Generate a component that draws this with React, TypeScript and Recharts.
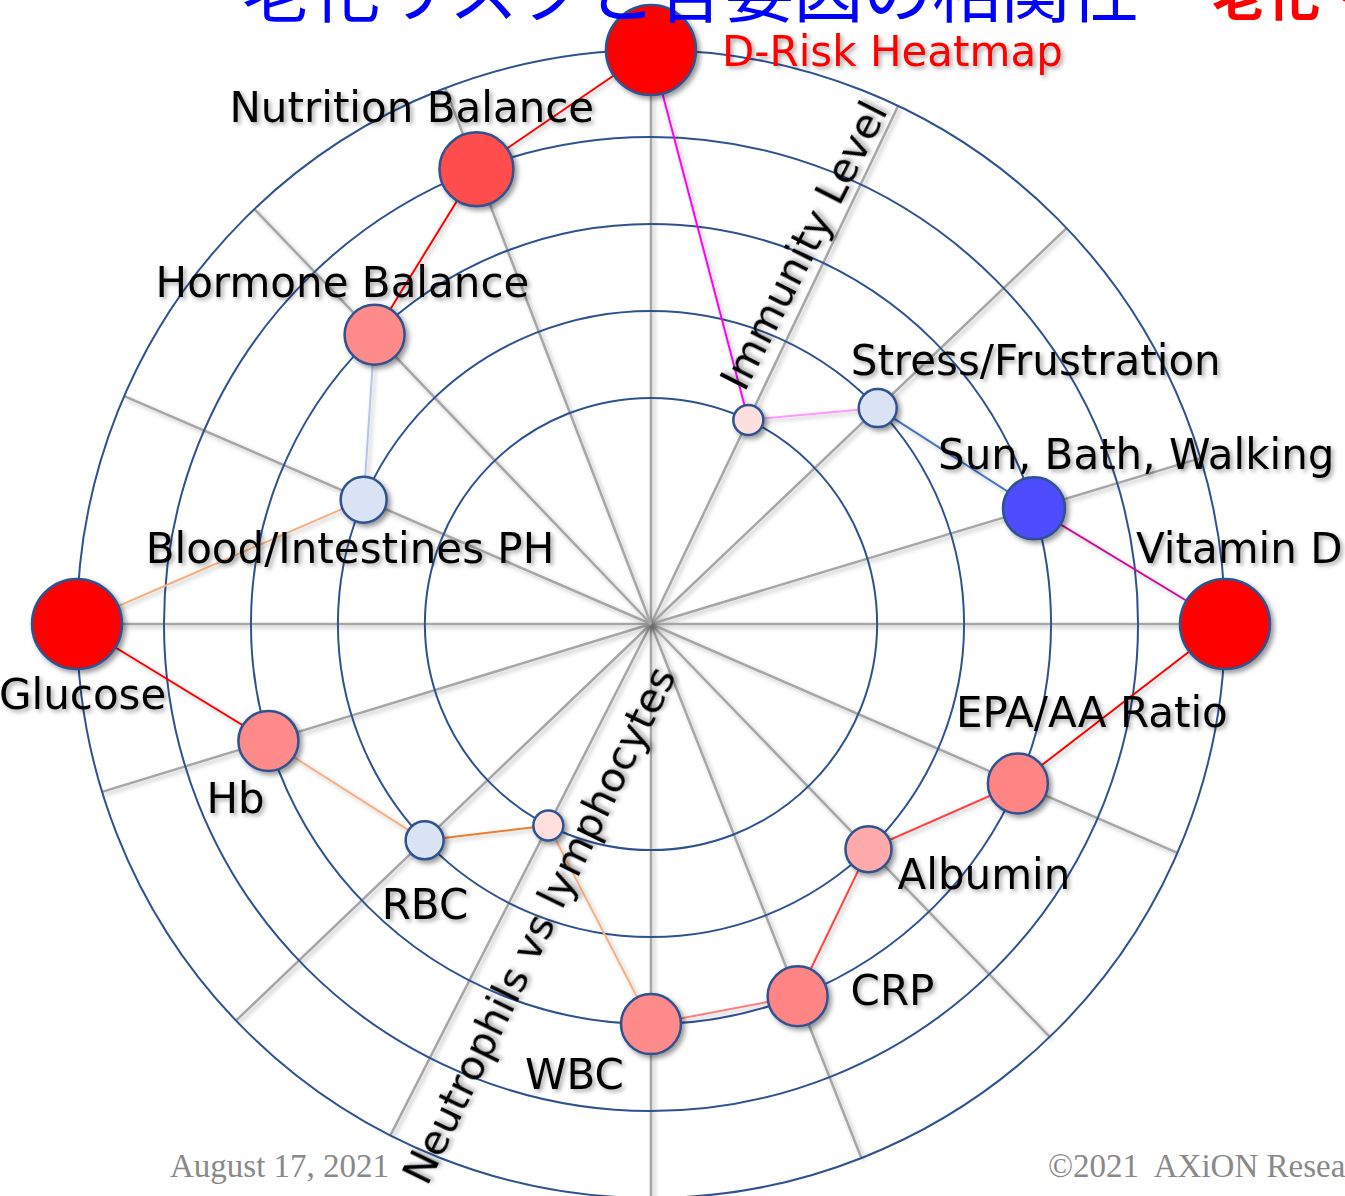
import React from "react";
import { RadarChart, Radar, PolarGrid, PolarAngleAxis, PolarRadiusAxis } from "recharts";

// factors around the wheel, clockwise from the top
const factors = [
  "D-Risk Heatmap",
  "Immunity Level",
  "Stress/Frustration",
  "Sun, Bath, Walking",
  "Vitamin D",
  "EPA/AA Ratio",
  "Albumin",
  "CRP",
  "WBC",
  "Neutrophils vs lymphocytes",
  "RBC",
  "Hb",
  "Glucose",
  "Blood/Intestines PH",
  "Hormone Balance",
  "Nutrition Balance",
];

// bearing of each spoke, degrees clockwise from the top (spokes are not evenly spaced)
const bearings = [0, 25.5, 46.4, 73.2, 90, 113.5, 136, 158.5, 180, 207, 226.3, 253, 270, 293.4, 316.3, 339];

// ring level of each node (1 = inner ring, 5 = outer ring)
const riskLevel = [5, 1, 2, 3, 5, 3, 2, 3, 3, 1, 2, 3, 5, 2, 3, 4];
const ringLevels = [1, 2, 3, 4, 5];

const nodeFill = [
  "#FF0000", "#FFDEDE", "#DAE3F3", "#4D4DFF", "#FF0000", "#FF8585", "#FFAAAA", "#FF8585",
  "#FF8A8A", "#FFDEDE", "#DAE3F3", "#FF8A8A", "#FF0000", "#DAE3F3", "#FF8A8A", "#FF4D4D",
];
const nodeRadius = [45, 15, 19, 31, 45, 30, 23, 30, 30, 15, 19, 30, 45, 23, 30, 37];

// colour of the link from factor i to factor i+1
const linkColor = [
  "#FF00FF", "#FF99FF", "#4472C4", "#CC1199", "#FF0000", "#FF4545", "#FF4545", "#FF7C80",
  "#F4B183", "#ED7D31", "#F4B183", "#FF0000", "#F4B183", "#B4C7E7", "#FF0000", "#FF0000",
];

const rows = factors.map((name, i) => ({ name, bearing: bearings[i], risk: riskLevel[i] }));

const spokeAngles = bearings.map((b) => 90 - b);

// label placement relative to each node
const labelLayout: Record<string, { dx: number; dy: number; rotate?: number; color?: string }> = {
  "D-Risk Heatmap": { dx: 71, dy: 16, color: "#FF0000" },
  "Immunity Level": { dx: 68, dy: -168, rotate: -63 },
  "Stress/Frustration": { dx: -27, dy: -33 },
  "Sun, Bath, Walking": { dx: -96, dy: -39 },
  "Vitamin D": { dx: -89, dy: -61 },
  "EPA/AA Ratio": { dx: -62, dy: -57 },
  "Albumin": { dx: 29, dy: 40 },
  "CRP": { dx: 53, dy: 9 },
  "WBC": { dx: -126, dy: 65 },
  "Neutrophils vs lymphocytes": { dx: 4, dy: 106, rotate: -64 },
  "RBC": { dx: -43, dy: 79 },
  "Hb": { dx: -62, dy: 72 },
  "Glucose": { dx: -78, dy: 85 },
  "Blood/Intestines PH": { dx: -218, dy: 63 },
  "Hormone Balance": { dx: -219, dy: -38 },
  "Nutrition Balance": { dx: -247, dy: -47 },
};

const renderLinks = (props: any) => {
  const pts = props.points || [];
  return (
    <g filter="url(#lineShadow)">
      {pts.map((p: any, i: number) => {
        const q = pts[(i + 1) % pts.length];
        return <line key={`link-${i}`} x1={p.x} y1={p.y} x2={q.x} y2={q.y} stroke={linkColor[i]} strokeWidth={2} />;
      })}
    </g>
  );
};

const renderNode = (p: any) => (
  <circle
    key={`node-${p.index}`}
    cx={p.cx}
    cy={p.cy}
    r={nodeRadius[p.index]}
    fill={nodeFill[p.index]}
    stroke="#2F528F"
    strokeWidth={2.5}
    filter="url(#dropShadow)"
  />
);

const renderLabel = (p: any) => {
  const name = factors[p.index];
  const l = labelLayout[name];
  const x = p.cx + l.dx;
  const y = p.cy + l.dy;
  return (
    <text
      key={`label-${p.index}`}
      x={x}
      y={y}
      textAnchor={l.rotate ? "middle" : "start"}
      transform={l.rotate ? `rotate(${l.rotate} ${x} ${y})` : undefined}
      fontFamily="DejaVu Sans"
      fontSize={l.rotate ? 41 : 42}
      fill={l.color ?? "#000"}
      filter="url(#textShadow)"
    >
      {name}
    </text>
  );
};

export default function App() {
  return (
    <div style={{ position: "absolute", left: 0, top: 0, width: 1345, height: 1196, overflow: "hidden", background: "#fff" }}>
      <style>{`
        .recharts-polar-grid-angle line { filter: url(#lineShadow); }
      `}</style>
      <svg width={0} height={0} style={{ position: "absolute" }}>
        <defs>
          <filter id="dropShadow" filterUnits="userSpaceOnUse" x={-50} y={-50} width={1450} height={1300}>
            <feDropShadow dx={3} dy={3} stdDeviation={2.5} floodColor="#000" floodOpacity={0.4} />
          </filter>
          <filter id="textShadow" filterUnits="userSpaceOnUse" x={-50} y={-50} width={1450} height={1300}>
            <feDropShadow dx={2.5} dy={2.5} stdDeviation={2} floodColor="#000" floodOpacity={0.35} />
          </filter>
          <filter id="lineShadow" filterUnits="userSpaceOnUse" x={-50} y={-50} width={1450} height={1300}>
            <feDropShadow dx={2.5} dy={2.5} stdDeviation={2} floodColor="#000" floodOpacity={0.25} />
          </filter>
        </defs>
      </svg>
      <RadarChart
        width={1345}
        height={1196}
        cx={651}
        cy={624}
        outerRadius={574}
        startAngle={90}
        endAngle={-270}
        data={rows}
        margin={{ top: 0, right: 0, bottom: 0, left: 0 }}
      >
        <PolarAngleAxis dataKey="bearing" type="number" domain={[0, 360]} tick={false} axisLine={false} />
        <PolarRadiusAxis
          type="number"
          domain={[-1.6, 5]}
          allowDataOverflow
          allowDecimals
          ticks={ringLevels}
          tick={false}
          axisLine={false}
        />
        <PolarGrid gridType="circle" polarAngles={spokeAngles} polarRadius={[]} stroke="#A6A6A6" strokeWidth={2.5} />
        <PolarGrid gridType="circle" radialLines={false} stroke="#2F528F" strokeWidth={2} />
        <Radar dataKey="risk" stroke="none" fill="none" shape={renderLinks} dot={false} activeDot={false} isAnimationActive={false} />
        <Radar dataKey="risk" stroke="none" fill="none" fillOpacity={0} dot={renderNode} activeDot={false} isAnimationActive={false} />
        <Radar dataKey="risk" stroke="none" fill="none" fillOpacity={0} dot={renderLabel} activeDot={false} isAnimationActive={false} />
      </RadarChart>
      <svg width={1345} height={1196} style={{ position: "absolute", left: 0, top: 0, pointerEvents: "none" }}>
        <text x={242} y={17} fontFamily="Noto Sans CJK JP" fontSize={69} fill="#0000FF">
          老化リスクと各要因の相関性
        </text>
        <text x={1212} y={16} fontFamily="Noto Sans CJK JP" fontSize={54} fontWeight="bold" fill="#FF0000">
          老化・
        </text>
        <text x={170} y={1177} fontFamily="Liberation Serif" fontSize={33} fill="#898989">
          August 17, 2021
        </text>
        <text x={1048} y={1177} fontFamily="Liberation Serif" fontSize={33} fill="#898989" style={{ whiteSpace: "pre" }}>
          {"©2021  AXiON Research"}
        </text>
      </svg>
    </div>
  );
}
